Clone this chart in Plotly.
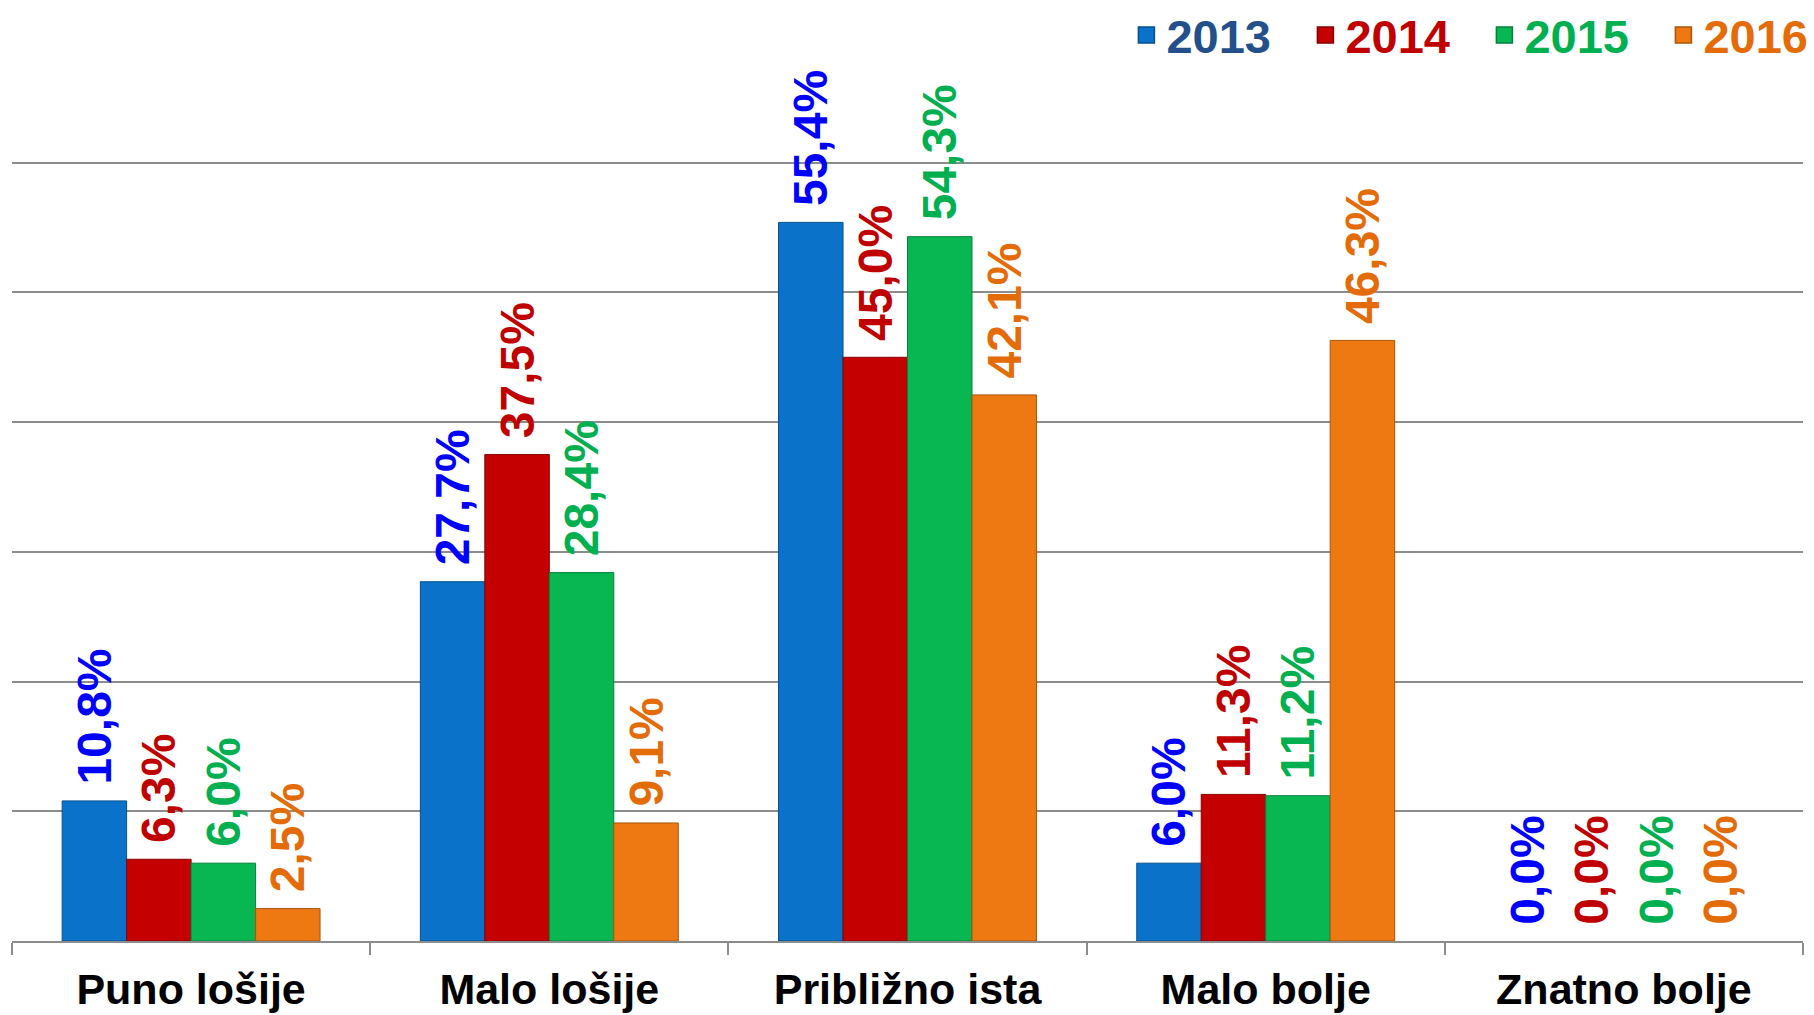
import plotly.graph_objects as go

# survey answers per year (percent)
categories = ["Puno lošije", "Malo lošije", "Približno ista", "Malo bolje", "Znatno bolje"]
years = ["2013", "2014", "2015", "2016"]
v2013 = [10.8, 27.7, 55.4, 6.0, 0.0]
v2014 = [6.3, 37.5, 45.0, 11.3, 0.0]
v2015 = [6.0, 28.4, 54.3, 11.2, 0.0]
v2016 = [2.5, 9.1, 42.1, 46.3, 0.0]

bar_colors = ["#0A72C8", "#C40000", "#08B652", "#EE7812"]
edge_colors = ["#05508F", "#8A0000", "#06803A", "#A9550B"]
label_colors = ["#0000FF", "#C00000", "#00B050", "#E36C09"]
legend_colors = ["#23508A", "#C00000", "#00B050", "#E36C09"]

fig = go.Figure()
for i, vals in enumerate([v2013, v2014, v2015, v2016]):
    fig.add_trace(go.Bar(
        x=categories, y=vals, name=years[i], legendgroup=years[i], showlegend=False,
        marker=dict(color=bar_colors[i],
                    line=dict(color=edge_colors[i], width=[1 if v > 0 else 0 for v in vals])),
        text=["\u00a0" + f"{v:.1f}%".replace(".", ",") for v in vals],
        textposition="outside", textangle=-90, constraintext="none",
        textfont=dict(color=label_colors[i], size=48, family="Liberation Sans, Arial", weight="bold"),
        cliponaxis=False,
    ))

# legend entries with bigger square swatches
for i in range(4):
    fig.add_trace(go.Scatter(
        x=[None], y=[None], mode="markers", legendgroup=years[i],
        name=f'<span style="color:{legend_colors[i]}">{years[i]}</span>',
        marker=dict(symbol="square", size=16, color=bar_colors[i],
                    line=dict(color=edge_colors[i], width=1.5)),
    ))

fig.update_layout(
    width=1814, height=1015,
    margin=dict(l=12, r=11, t=33, b=74, autoexpand=False),
    barmode="group", bargap=0.28, bargroupgap=0,
    plot_bgcolor="white", paper_bgcolor="white",
    font=dict(family="Liberation Sans, Arial", weight="bold", color="black"),
    legend=dict(orientation="h", x=1.022, xanchor="right", xref="paper",
                y=0.965, yanchor="middle", yref="container",
                font=dict(size=47, weight="bold"), itemwidth=30,
                entrywidth=134, traceorder="normal", itemsizing="trace"),
)
fig.update_xaxes(showline=True, linecolor="#8C8C8C", linewidth=2, automargin=False,
                 ticks="outside", tickson="boundaries", ticklen=12, tickcolor="#8C8C8C", tickwidth=2,
                 ticklabelstandoff=9,
                 tickfont=dict(size=43, weight="bold", color="black"))
fig.update_yaxes(range=[0, 70], tickvals=[0, 10, 20, 30, 40, 50, 60], showticklabels=False,
                 automargin=False, showgrid=True, gridcolor="#8C8C8C", gridwidth=1.5, zeroline=False)

fig.write_html("out.html", config={"displayModeBar": False},
               post_script="document.body.style.margin='0';document.body.style.overflow='hidden';")
